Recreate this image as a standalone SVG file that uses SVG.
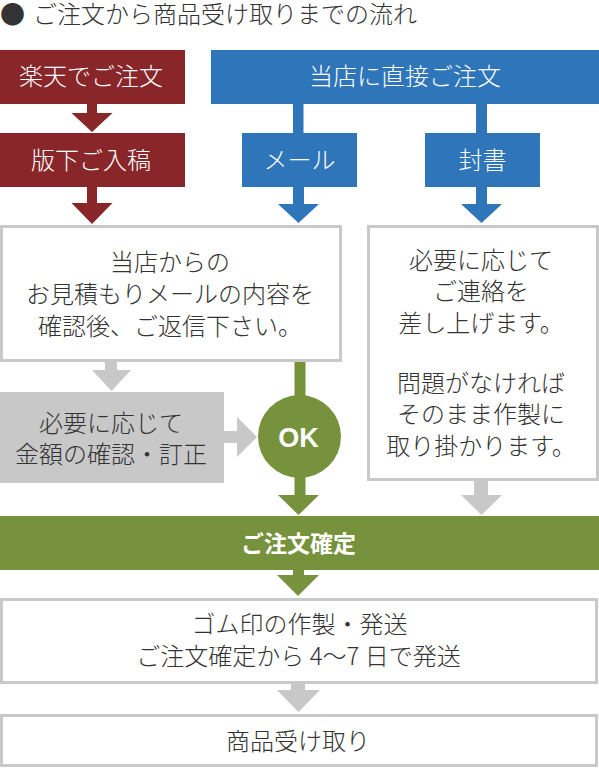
<svg xmlns="http://www.w3.org/2000/svg" width="599" height="768" viewBox="0 0 599 768">
  <style>
    text { font-family: "Noto Sans CJK JP", "Noto Sans", sans-serif; font-weight: 300; font-size: 24px; }
    .c { text-anchor: middle; }
    .w { fill: #ffffff; }
    .d { fill: #333333; }
    .red { fill: #88262a; }
    .blue { fill: #2f75b9; }
    .green { fill: #76923c; }
    .gray { fill: #c8c8c8; }
    .box { fill: #ffffff; stroke: #c8c8c8; stroke-width: 3; }
    .bold { font-weight: 700; }
    .ok { font-family: "Liberation Sans", Arial, sans-serif; font-weight: 700; font-size: 27px; }
  </style>

  <g id="title">
    <text x="0" y="23.5" class="d" style="font-size:25px">●</text>
    <text x="33" y="23" class="d">ご注文から商品受け取りまでの流れ</text>
  </g>

  <g id="connectors">
    <polygon class="red" points="87,104 97,104 97,113 112.5,113 92,132 71.5,113 87,113"/>
    <polygon class="red" points="87,187 97,187 97,203 112.5,203 92,224 71.5,203 87,203"/>
    <rect class="blue" x="293" y="104" width="10.5" height="30"/>
    <rect class="blue" x="476" y="104" width="11" height="30"/>
    <polygon class="blue" points="293,187 304,187 304,204 319,204 298.5,223 278,204 293,204"/>
    <polygon class="blue" points="476,187 487,187 487,204 502,204 481.5,223 461,204 476,204"/>
    <polygon class="gray" points="105,362 117,362 117,370 131,370 111.5,391 92,370 105,370"/>
    <polygon class="gray" points="224,431 237,431 237,417 257,437 237,457 237,443 224,443"/>
    <rect class="green" x="294.5" y="361" width="11" height="36"/>
    <polygon class="green" points="294.5,477 305.5,477 305.5,495 319,495 298.5,515 278,495 294.5,495"/>
    <polygon class="gray" points="474,481 488,481 488,495 502,495 481.5,515 461,495 474,495"/>
    <polygon class="green" points="293,570 304,570 304,575 319,575 298,596 277,575 293,575"/>
    <polygon class="gray" points="291,684 305,684 305,690 320,690 298.5,712 277,690 291,690"/>
  </g>

  <g id="n-rakuten">
    <rect class="red" x="0" y="50" width="185" height="54"/>
    <text x="91" y="85" class="c w">楽天でご注文</text>
  </g>
  <g id="n-hanshita">
    <rect class="red" x="0" y="133" width="185" height="54"/>
    <text x="91" y="169" class="c w">版下ご入稿</text>
  </g>
  <g id="n-direct">
    <rect class="blue" x="211" y="50" width="388" height="54"/>
    <text x="405" y="85" class="c w">当店に直接ご注文</text>
  </g>
  <g id="n-mail">
    <rect class="blue" x="242" y="133" width="115" height="54"/>
    <text x="299.5" y="169" class="c w">メール</text>
  </g>
  <g id="n-letter">
    <rect class="blue" x="425" y="133" width="115" height="54"/>
    <text x="482.5" y="169" class="c w">封書</text>
  </g>
  <g id="n-estimate">
    <rect class="box" x="1.5" y="226.5" width="339" height="134"/>
    <text x="170" y="271" class="c d">当店からの</text>
    <text x="170" y="303" class="c d">お見積もりメールの内容を</text>
    <text x="170" y="335" class="c d">確認後、ご返信下さい。</text>
  </g>
  <g id="n-contact">
    <rect class="box" x="368.5" y="226.5" width="229" height="253"/>
    <text x="481" y="268.5" class="c d">必要に応じて</text>
    <text x="481" y="300" class="c d">ご連絡を</text>
    <text x="481" y="331.5" class="c d">差し上げます。</text>
    <text x="481" y="391.5" class="c d">問題がなければ</text>
    <text x="481" y="423" class="c d">そのまま作製に</text>
    <text x="481" y="454.5" class="c d">取り掛かります。</text>
  </g>
  <g id="n-correct">
    <rect class="gray" x="0" y="392" width="224" height="91"/>
    <text x="111" y="432" class="c d">必要に応じて</text>
    <text x="111" y="463" class="c d">金額の確認・訂正</text>
  </g>
  <g id="n-ok">
    <circle class="green" cx="299.5" cy="436.5" r="41.5"/>
    <text x="298.5" y="446.5" class="c w ok">OK</text>
  </g>
  <g id="n-confirm">
    <rect class="green" x="0" y="516" width="599" height="54"/>
    <text x="298.5" y="552" class="c w bold" style="font-size:23px">ご注文確定</text>
  </g>
  <g id="n-make">
    <rect class="box" x="1.5" y="599.5" width="595" height="83"/>
    <text x="299.5" y="633" class="c d">ゴム印の作製・発送</text>
    <text x="298.5" y="665" class="c d">ご注文確定から 4～7 日で発送</text>
  </g>
  <g id="n-receive">
    <rect class="box" x="1.5" y="715.5" width="595" height="50"/>
    <text x="298" y="750" class="c d">商品受け取り</text>
  </g>
</svg>
